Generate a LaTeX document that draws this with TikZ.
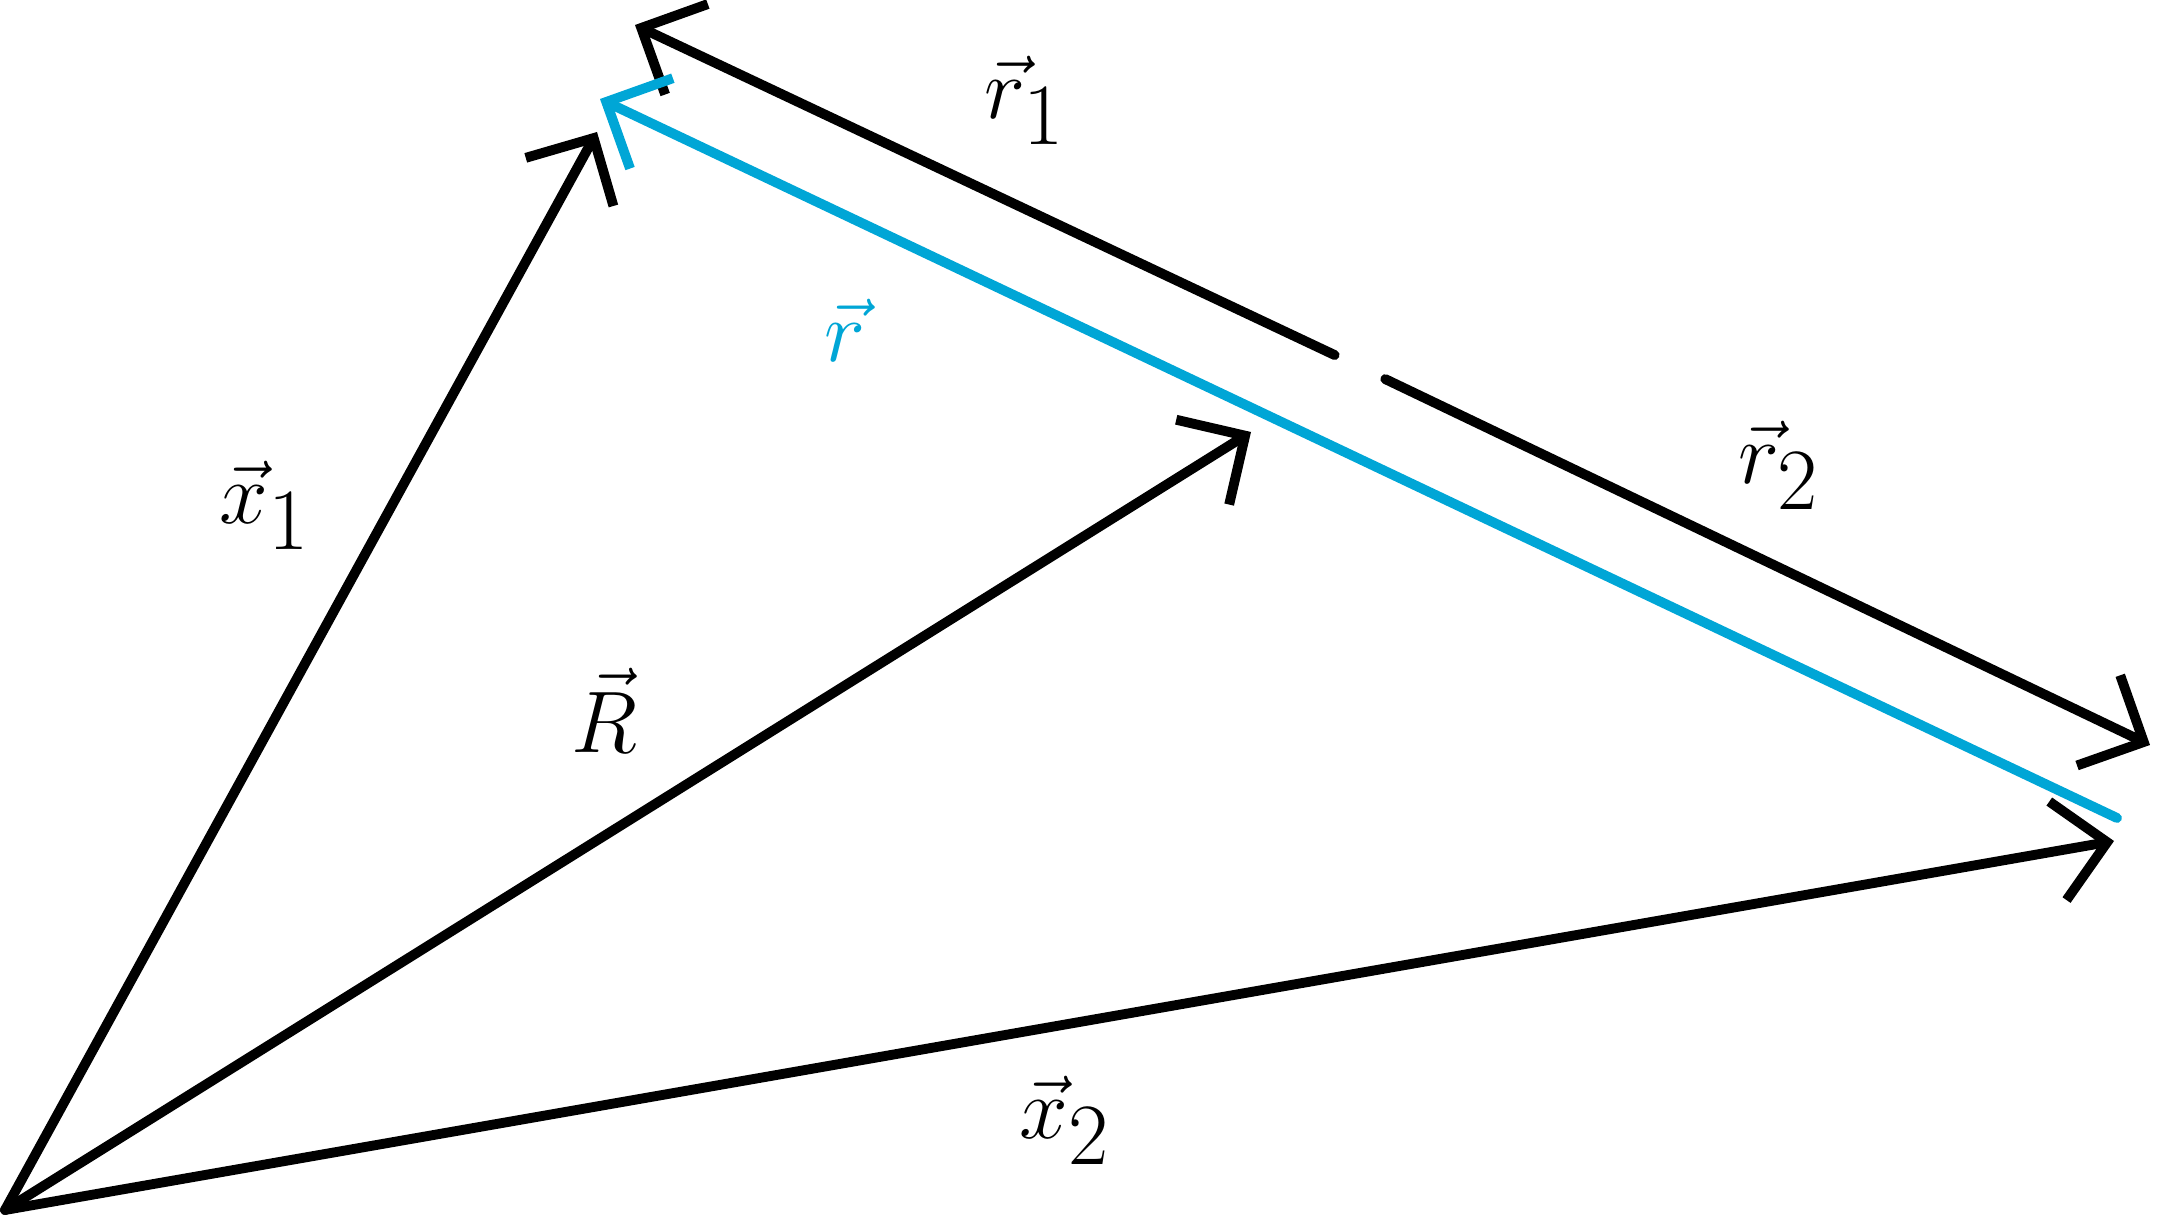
\documentclass[tikz,border=0pt]{standalone}
\usetikzlibrary{arrows.meta}
\definecolor{vecblue}{RGB}{0,166,214}
\begin{document}
\begin{tikzpicture}[
    vec/.style={line width=2.8pt, line cap=round,
        -{Straight Barb[length=0.5cm, width=1.0cm, line width=2.8pt]}},
    lbl/.style={font=\fontsize{41}{48}\selectfont},
    ]
    \useasboundingbox (0,0) rectangle (21.64,12.15);
    % points
    \coordinate (O) at (0.05,0.05);
    \coordinate (X1) at (5.97,10.83);
    \coordinate (RR) at (12.51,7.83);
    \coordinate (X2) at (21.14,3.74);
    \coordinate (S) at (13.60,8.48);
    \coordinate (P) at (6.35,11.90);
    \coordinate (Q) at (21.50,4.70);
    \coordinate (Pb) at (6.00,11.16);
    \coordinate (Qb) at (21.17,3.97);

    \draw[vec] (O) -- (X1);
    \draw[vec] (O) -- (RR);
    \draw[vec] (O) -- (X2);
    \draw[vec, shorten <=0.28cm] (S) -- (P);
    \draw[vec, shorten <=0.28cm] (S) -- (Q);
    \draw[vec, draw=vecblue] (Qb) -- (Pb);

    \node[lbl] (lx1) at (2.65,7.10) {$\vec{x}_1$};
    \node[lbl] (lR) at (6.04,5.05) {$\vec{R}$};
    \node[lbl] (lx2) at (10.65,0.95) {$\vec{x}_2$};
    \node[lbl] (lr1) at (10.25,11.15) {$\vec{r}_1$};
    \node[lbl, text=vecblue] (lr) at (8.45,8.85) {$\vec{r}$};
    \node[lbl] (lr2) at (17.79,7.50) {$\vec{r}_2$};
\end{tikzpicture}
\end{document}
